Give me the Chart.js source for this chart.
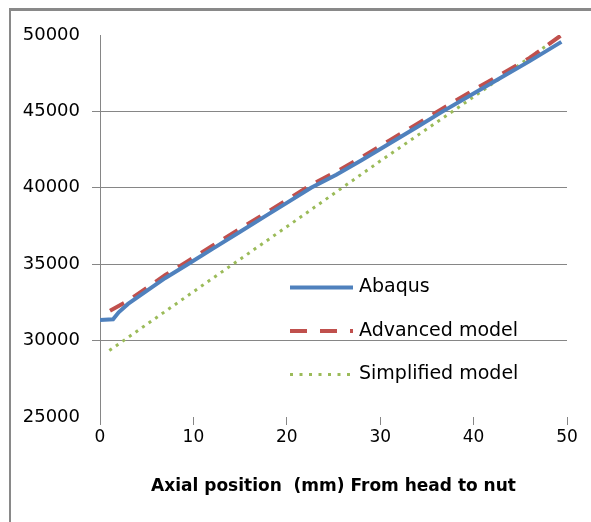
<!DOCTYPE html>
<html>
<head>
<meta charset="utf-8">
<script src="https://cdn.jsdelivr.net/npm/chart.js@4/dist/chart.umd.min.js"></script>
<style>
  html, body { margin: 0; padding: 0; background: #fff; }
  #wrap { position: relative; width: 591px; height: 522px; overflow: hidden; }
  #frame { position: absolute; left: 9px; top: 8px; width: 600px; height: 600px;
           border-top: 3px solid #898989; border-left: 2px solid #898989; }
  canvas { position: absolute; left: 0; top: 0; }
</style>
</head>
<body>
<div id="wrap">
  <div id="frame"></div>
  <canvas id="c" width="591" height="522"></canvas>
</div>
<script>
// ---- data ----
const seriesNames = ["Abaqus", "Advanced model", "Simplified model"];

const abaqusX = [0, 1.4, 2.0, 3.0, 5.0, 7.0, 9.4, 12, 15, 18, 20, 22.6, 25.3, 28, 31, 34, 36.7, 40, 43, 46, 49.4];
const abaqusY = [31350, 31400, 31850, 32400, 33250, 34100, 35000, 35985, 37120, 38260, 39015, 40000, 40850, 41800, 42900, 44000, 45000, 46170, 47230, 48290, 49550];

const advancedX = [1.07, 3, 5, 7, 9.4, 12, 15, 18, 20, 22.6, 25.3, 28, 31, 34, 36.7, 40, 43, 46, 49.3];
const advancedY = [31950, 32600, 33450, 34300, 35200, 36200, 37320, 38450, 39200, 40200, 41050, 42000, 43100, 44200, 45200, 46400, 47450, 48500, 49950];

const simplifiedX = [1.0, 10, 20, 30, 40, 49.2];
const simplifiedY = [29350, 33200, 37450, 41750, 45950, 49900];

const xAxisTitle = "Axial position  (mm) From head to nut";
const xRange = [0, 50, 10];
const yRange = [25000, 50000, 5000];

const toPts = (xs, ys) => xs.map((x, i) => ({ x: x, y: ys[i] }));

const legendPlugin = {
  id: 'customLegend',
  afterDatasetsDraw(chart) {
    const ctx = chart.ctx;
    const a = chart.chartArea;
    const x0 = a.left + 190, x1 = a.left + 253, tx = a.left + 259;
    const rows = [a.top + 252.5, a.top + 296, a.top + 339.5];
    chart.data.datasets.forEach((ds, i) => {
      const y = rows[i];
      ctx.save();
      ctx.strokeStyle = ds.borderColor;
      ctx.lineWidth = ds.borderWidth;
      ctx.setLineDash(ds.legendDash || []);
      ctx.lineCap = 'butt';
      ctx.beginPath();
      ctx.moveTo(x0, y);
      ctx.lineTo(x1, y);
      ctx.stroke();
      ctx.setLineDash([]);
      ctx.fillStyle = '#000';
      ctx.font = '19px "DejaVu Sans"';
      ctx.textBaseline = 'middle';
      ctx.textAlign = 'left';
      ctx.fillText(ds.label, tx, y);
      ctx.restore();
    });
  }
};

new Chart(document.getElementById('c'), {
  type: 'line',
  data: {
    datasets: [
      { label: seriesNames[0], data: toPts(abaqusX, abaqusY), borderColor: '#4F81BD',
        borderWidth: 4, pointRadius: 0, tension: 0, fill: false, legendDash: [] },
      { label: seriesNames[1], data: toPts(advancedX, advancedY), borderColor: '#C0504D',
        borderWidth: 4, borderDash: [16, 11], pointRadius: 0, tension: 0, fill: false, legendDash: [17, 13] },
      { label: seriesNames[2], data: toPts(simplifiedX, simplifiedY), borderColor: '#9BBB59',
        borderWidth: 3, borderDash: [3, 5], pointRadius: 0, tension: 0, fill: false, legendDash: [3, 6.5] }
    ]
  },
  options: {
    responsive: false,
    animation: false,
    devicePixelRatio: 1,
    layout: { padding: { left: 0, right: 24, top: 35, bottom: 0 } },
    plugins: { legend: { display: false }, tooltip: { enabled: false } },
    scales: {
      x: {
        type: 'linear',
        min: xRange[0], max: xRange[1],
        ticks: { stepSize: xRange[2], color: '#000', padding: 2,
                 callback: (v) => String(v),
                 font: { family: 'DejaVu Sans', size: 17 } },
        grid: { display: true, drawOnChartArea: false, drawTicks: true, tickLength: 8,
                color: '#868686', lineWidth: 1 },
        border: { display: false },
        title: { display: true, text: xAxisTitle, color: '#000',
                 font: { family: 'DejaVu Sans', size: 17, weight: 'bold' },
                 padding: { top: 0, bottom: 25 } },
        afterFit(scale) { scale.height = 105; }
      },
      y: {
        type: 'linear',
        min: yRange[0], max: yRange[1],
        ticks: { stepSize: yRange[2], color: '#000', padding: 12,
                 callback: (v) => String(v),
                 font: { family: 'DejaVu Sans', size: 18 } },
        grid: { color: (c) => (c.tick && (c.tick.value === yRange[0] || c.tick.value === yRange[1])) ? 'rgba(0,0,0,0)' : '#868686',
                lineWidth: 1, tickLength: 8 },
        border: { display: true, color: '#868686', width: 1 },
        afterFit(scale) { scale.width = 100; }
      }
    }
  },
  plugins: [legendPlugin]
});
</script>
</body>
</html>
